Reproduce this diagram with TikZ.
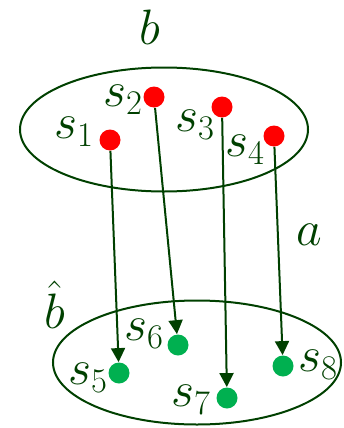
\documentclass[tikz,border=0pt]{standalone}
\usetikzlibrary{arrows.meta}
\definecolor{dgreen}{RGB}{0,64,0}
\definecolor{redd}{RGB}{255,0,0}
\definecolor{greed}{RGB}{0,176,80}

\begin{document}
\begin{tikzpicture}[x=0.5pt,y=-0.5pt,
    dot/.style={circle,inner sep=0pt,minimum size=10.5pt},
    lbl/.style={text=dgreen,font=\fontsize{25}{30}\selectfont},
    arr/.style={dgreen,line width=1pt,-{Triangle[length=7pt,width=7pt]}}]
    \useasboundingbox (0,0) rectangle (343,428);
    %
    \draw[dgreen,line width=1pt] (164,129.5) ellipse [x radius=144,y radius=62];
    \draw[dgreen,line width=1pt] (197,362.5) ellipse [x radius=144,y radius=62];
    %
    \node[dot,fill=redd] (A1) at (110,140) {};
    \node[dot,fill=redd] (A2) at (154,97) {};
    \node[dot,fill=redd] (A3) at (222,107) {};
    \node[dot,fill=redd] (A4) at (274,136) {};
    \node[dot,fill=greed] (B1) at (119,373) {};
    \node[dot,fill=greed] (B2) at (178,345) {};
    \node[dot,fill=greed] (B3) at (227,398) {};
    \node[dot,fill=greed] (B4) at (283,366) {};
    %
    \node[lbl] (LA1) at (74,132) {$s_1$};
    \node[lbl] (LA2) at (123,100) {$s_2$};
    \node[lbl] (LA3) at (195,125) {$s_3$};
    \node[lbl] (LA4) at (245,150) {$s_4$};
    \node[lbl] (LB1) at (88,378) {$s_5$};
    \node[lbl] (LB2) at (144,334) {$s_6$};
    \node[lbl] (LB3) at (191,400) {$s_7$};
    \node[lbl] (LB4) at (318,365) {$s_8$};
    %
    \node[lbl] (Lb) at (150,27) {$b$};
    \node[lbl] (Lh) at (55,305) {$\hat{b}$};
    \node[lbl] (La) at (309,235) {$a$};
    %
    \draw[arr] (A1) -- (B1);
    \draw[arr] (A2) -- (B2);
    \draw[arr] (A3) -- (B3);
    \draw[arr] (A4) -- (B4);
    %
\end{tikzpicture}
\end{document}
